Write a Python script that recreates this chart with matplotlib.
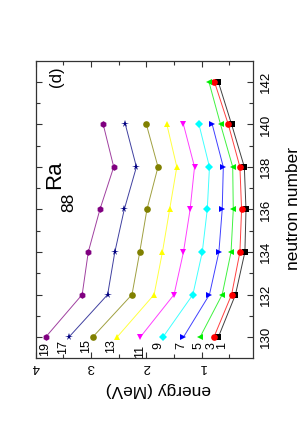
import matplotlib
matplotlib.use("Agg")
import matplotlib.pyplot as plt

plt.rcParams['font.family'] = ['Liberation Sans', 'DejaVu Sans']

neutrons = [130, 132, 134, 136, 138, 140, 142]
spins = ["1", "3", "5", "7", "9", "11", "13", "15", "17", "19"]
energies = {
    "1":  [0.70, 0.39, 0.22, 0.20, 0.23, 0.46, 0.70],
    "3":  [0.78, 0.46, 0.31, 0.28, 0.31, 0.52, 0.77],
    "5":  [1.03, 0.63, 0.47, 0.43, 0.44, 0.66, 0.87],
    "7":  [1.33, 0.86, 0.69, 0.63, 0.61, 0.81],
    "9":  [1.70, 1.16, 0.99, 0.90, 0.86, 1.05],
    "11": [2.11, 1.50, 1.33, 1.21, 1.13, 1.33],
    "13": [2.53, 1.86, 1.71, 1.58, 1.45, 1.63],
    "15": [2.97, 2.26, 2.12, 1.99, 1.79, 2.00],
    "17": [3.40, 2.70, 2.57, 2.40, 2.18, 2.38],
    "19": [3.82, 3.16, 3.05, 2.84, 2.59, 2.78],
}
# where each spin label sits (energy, neutron number)
label_energy = {"1": 0.63, "3": 0.82, "5": 1.06, "7": 1.37, "9": 1.79,
                "11": 2.12, "13": 2.64, "15": 3.09, "17": 3.50, "19": 3.83}
label_neutron = {"1": 129.6, "3": 129.6, "5": 129.6, "7": 129.6, "9": 129.6,
                 "11": 129.35, "13": 129.6, "15": 129.6, "17": 129.55, "19": 129.45}

colors = {"1": "#000000", "3": "#ff0000", "5": "#00ee00", "7": "#0000ff",
          "9": "#00ffff", "11": "#ff00ff", "13": "#ffff00", "15": "#808000",
          "17": "#000080", "19": "#800080"}
markers = {"1": "s", "3": "o", "5": "<", "7": ">", "9": "D", "11": "v",
           "13": "^", "15": "o", "17": "*", "19": "h"}
msizes = {"1": 4.2, "3": 4.8, "5": 5, "7": 5, "9": 4, "11": 5, "13": 5,
          "15": 4.8, "17": 5.5, "19": 4.8}

fig = plt.figure(figsize=(3.03, 4.36), dpi=100)
ax = fig.add_axes([0.1178, 0.178, 0.716, 0.683])

for s in spins:
    e = energies[s]
    n = neutrons[:len(e)]
    ax.plot(e, n, '-', color=colors[s], lw=0.7, alpha=0.75, zorder=2)
    ax.plot(e, n, linestyle='none', marker=markers[s], color=colors[s],
            markersize=msizes[s], markeredgewidth=0, zorder=3)
    ax.text(label_energy[s], label_neutron[s], s, rotation=90,
            ha='center', va='center', fontsize=9)

ax.set_xlim(4.0, 0.08)
ax.set_ylim(129, 143)
ax.set_xticks([4, 3, 2, 1])
ax.set_xticklabels(["4", "3", "2", "1"])
ax.set_xticks([3.5, 2.5, 1.5, 0.5], minor=True)
ax.set_yticks([130, 132, 134, 136, 138, 140, 142])
ax.set_yticks([131, 133, 135, 137, 139, 141], minor=True)

ax.tick_params(axis='both', which='both', direction='in', color='#333333',
               top=True, bottom=True, left=True, right=True, labelsize=9.5)
ax.tick_params(axis='x', which='major', length=4.5, width=0.8, labelrotation=180, pad=2)
ax.tick_params(axis='y', which='major', length=4.5, width=0.8, labelleft=False,
               labelright=True, labelrotation=90, pad=5)
ax.tick_params(which='minor', length=3, width=0.8)
for lab in ax.get_yticklabels():
    lab.set_va('center')
for sp in ax.spines.values():
    sp.set_color('#333333')
    sp.set_linewidth(0.9)

fig.text(158 / 303, 1 - 389 / 436, "energy (MeV)", rotation=180,
         ha='center', va='center', fontsize=12.5)
fig.text(293 / 303, 1 - 208 / 436, "neutron number", rotation=90,
         ha='center', va='center', fontsize=12.5)

ax.text(3.62, 142.26, "(d)", rotation=90, ha='center', va='center', fontsize=12)
ax.text(3.651, 137.66, "Ra", rotation=90, ha='center', va='center', fontsize=16)
ax.text(3.398, 136.35, "88", rotation=90, ha='center', va='center', fontsize=12.5)

fig.savefig("out.png", dpi=100)
